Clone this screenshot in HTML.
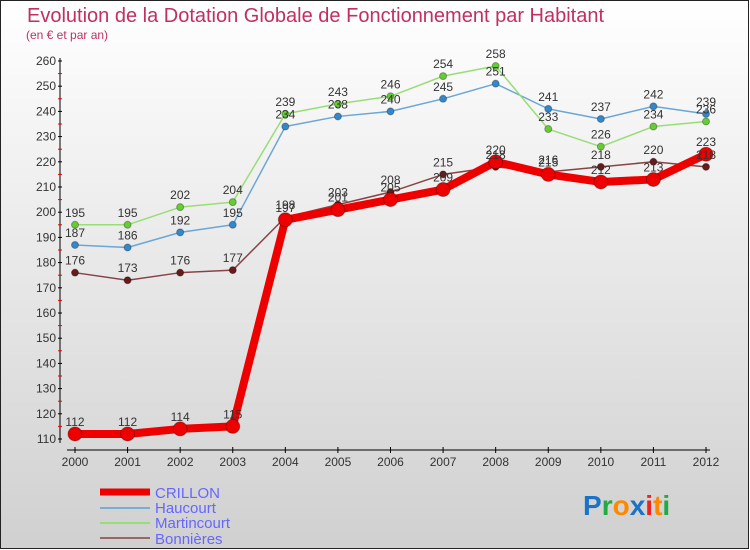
<!DOCTYPE html>
<html><head><meta charset="utf-8"><style>
body{margin:0;width:750px;height:550px;overflow:hidden}
svg{display:block;font-family:"Liberation Sans",sans-serif}
</style></head><body>
<svg id="c" width="750" height="550" xmlns="http://www.w3.org/2000/svg">
<defs><linearGradient id="bg" x1="0" y1="0" x2="0" y2="1"><stop offset="0" stop-color="#ffffff"/><stop offset="1" stop-color="#d0d0d0"/></linearGradient></defs>
<rect x="0.5" y="0.5" width="748" height="548" fill="url(#bg)" stroke="#222"/>
<text x="27" y="22" font-size="20" fill="#c03060">Evolution de la Dotation Globale de Fonctionnement par Habitant</text>
<text x="26" y="39" font-size="12" fill="#c03060">(en € et par an)</text>
<g id="axes"></g><g id="series"></g><g id="labels"></g>
<g>
<line x1="100" y1="492" x2="150" y2="492" stroke="#ee0000" stroke-width="7"/>
<text x="155" y="498" font-size="15" fill="#6666ff">CRILLON</text>
<line x1="100" y1="508" x2="150" y2="508" stroke="#7aaed0" stroke-width="2"/>
<text x="155" y="513" font-size="15" fill="#6666ff">Haucourt</text>
<line x1="100" y1="523" x2="150" y2="523" stroke="#99dd77" stroke-width="2"/>
<text x="155" y="528" font-size="15" fill="#6666ff">Martincourt</text>
<line x1="100" y1="538" x2="150" y2="538" stroke="#996666" stroke-width="2"/>
<text x="155" y="544" font-size="15" fill="#6666ff">Bonnières</text>
</g>
<text x="583" y="515" font-size="28" font-weight="bold"><tspan fill="#1a73c8">P</tspan><tspan fill="#22aa44">r</tspan><tspan fill="#ff8800">o</tspan><tspan fill="#1a73c8">x</tspan><tspan fill="#ee2222">i</tspan><tspan fill="#ff8800">t</tspan><tspan fill="#22aa44">i</tspan></text>
</svg>
<script>
const years=[2000,2001,2002,2003,2004,2005,2006,2007,2008,2009,2010,2011,2012];
const yTicks=[110,120,130,140,150,160,170,180,190,200,210,220,230,240,250,260];
const crillon=[112,112,114,115,197,201,205,209,220,215,212,213,223];
const haucourt=[187,186,192,195,234,238,240,245,251,241,237,242,239];
const martincourt=[195,195,202,204,239,243,246,254,258,233,226,234,236];
const bonnieres=[176,173,176,177,198,203,208,215,218,216,218,220,218];
const NS="http://www.w3.org/2000/svg";
const X=i=>75+i*(631/12);
const Y=v=>439-(v-110)*(378/150);
function mk(t,a,p){const e=document.createElementNS(NS,t);for(const k in a)e.setAttribute(k,a[k]);p.appendChild(e);return e;}
const ax=document.getElementById('axes');
let e=mk('line',{x1:60,y1:58,x2:60,y2:443,stroke:'#000'},ax);


e=mk('line',{x1:67,y1:450,x2:710,y2:450,stroke:'#000'},ax);


yTicks.forEach((t,i)=>{
 mk('line',{x1:58,x2:62,y1:Y(t),y2:Y(t),stroke:'#000'},ax);
 if(i<yTicks.length-1)mk('line',{x1:58,x2:62,y1:Y(t+5),y2:Y(t+5),stroke:'#e00'},ax);
 const l=mk('text',{x:56,y:Y(t)+4,'text-anchor':'end','font-size':12,fill:'#333'},ax);l.textContent=t;
 
 
});
years.forEach((y,i)=>{
 mk('line',{x1:X(i),x2:X(i),y1:447,y2:453,stroke:'#000'},ax);
 const l=mk('text',{x:X(i),y:466,'text-anchor':'middle','font-size':12,fill:'#333'},ax);l.textContent=y;
 
 
});
const sg=document.getElementById('series'),lg=document.getElementById('labels');
const S=[[haucourt,'#6aa6d6','#3388cc',1.5,3.5,'haucourt'],[martincourt,'#99dd77','#66cc33',1.5,3.5,'martincourt'],[bonnieres,'#884444','#661a1a',1.5,3.5,'bonnieres'],[crillon,'#ee0000','#ee0000',8,7,'crillon']];
S.forEach(([d,c,f,w,r,n])=>{
 const p=mk('polyline',{points:d.map((v,i)=>X(i)+','+Y(v)).join(' '),fill:'none',stroke:c,'stroke-width':w,'stroke-linejoin':'round'},sg);
 
 
 d.forEach((v,i)=>{
  const m=mk('circle',{cx:X(i),cy:Y(v),r:r,fill:f,stroke:'rgba(0,0,0,0.3)'},sg);
  
  
  const t=mk('text',{x:X(i),y:Y(v)-8,'text-anchor':'middle','font-size':12,fill:'#333'},lg);t.textContent=v;
  
  
 });
});
</script>
</body></html>
